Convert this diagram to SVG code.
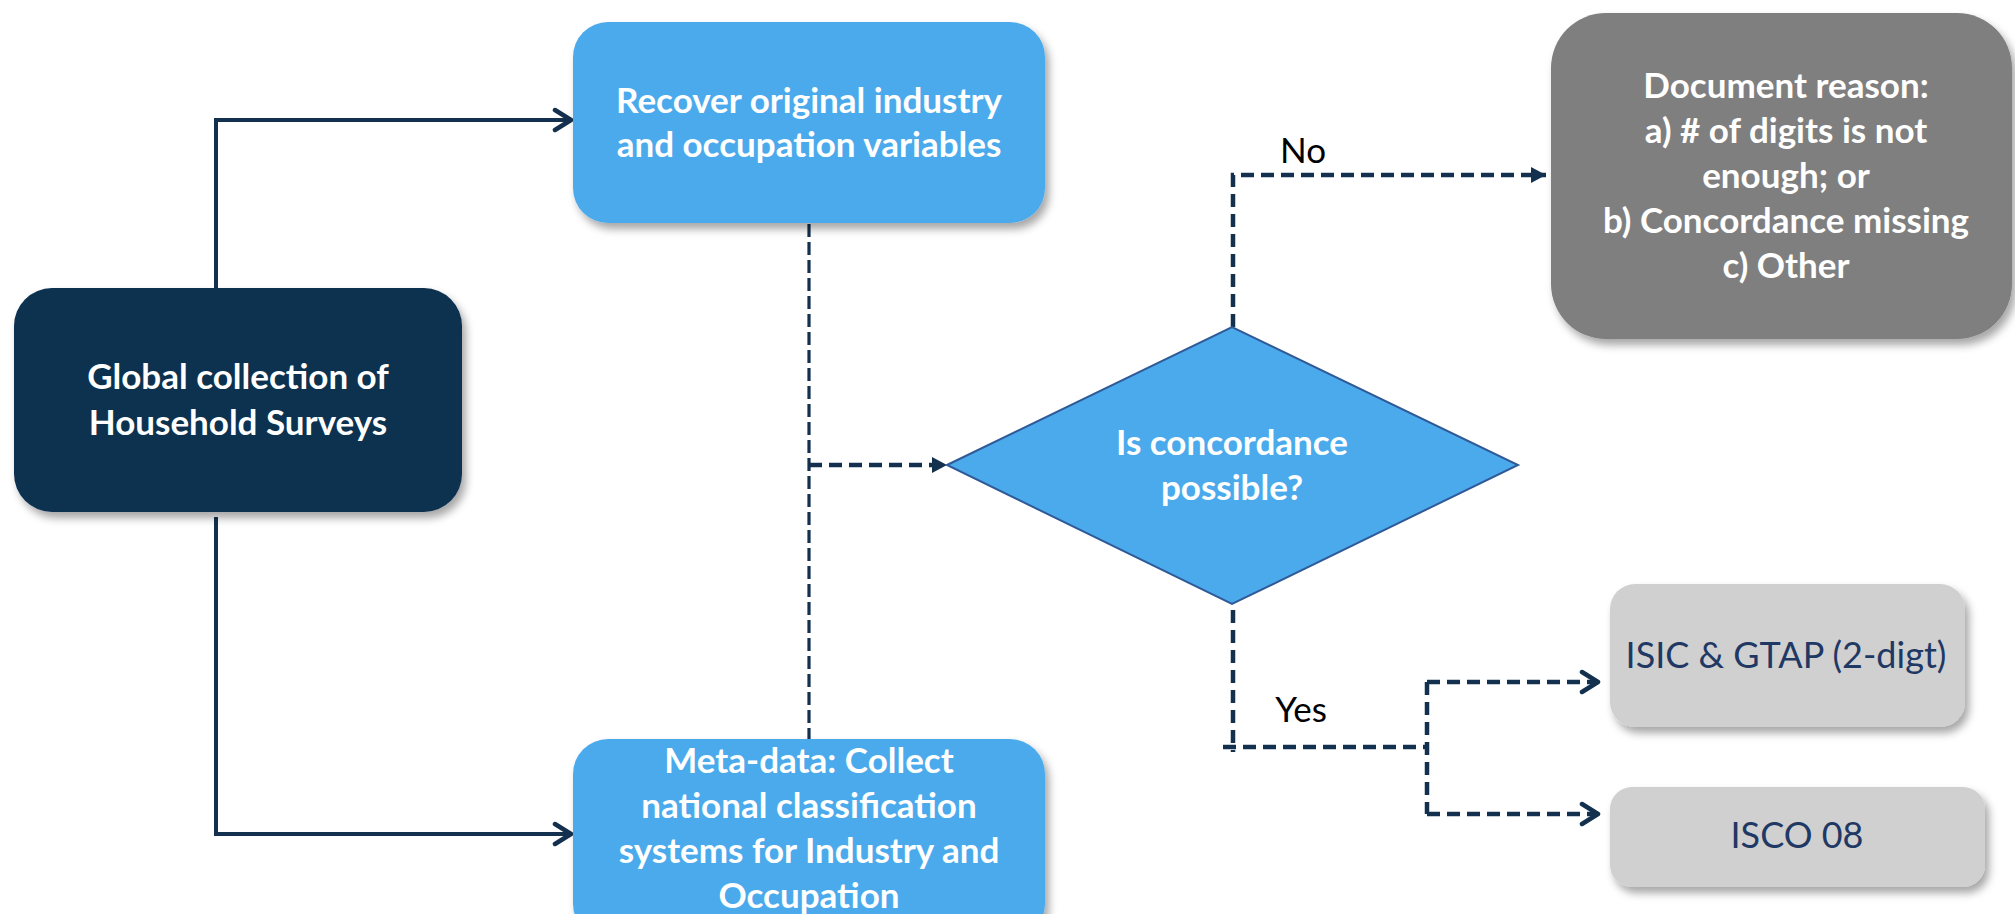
<svg xmlns="http://www.w3.org/2000/svg" width="2015" height="914" viewBox="0 0 2015 914">
<style>
.t{font-family:Lato,"Liberation Sans",sans-serif;text-anchor:middle}
.b{font-weight:bold;fill:#ffffff;font-size:35px}
.lbl{fill:#000000;font-size:35px}
.dk{fill:#1f3864;font-size:36px}
.solid{fill:none;stroke:#13304f;stroke-width:4}
.dash{fill:none;stroke:#13304f;stroke-width:4.5;stroke-dasharray:13 7}
.dashthin{fill:none;stroke:#13304f;stroke-width:3.2;stroke-dasharray:13 5}
</style>
<defs>
<filter id="sh" x="-10%" y="-10%" width="125%" height="130%">
<feDropShadow dx="4" dy="6" stdDeviation="4" flood-color="#000000" flood-opacity="0.35"/>
</filter>
<marker id="tri" markerUnits="userSpaceOnUse" markerWidth="16" markerHeight="16" refX="15" refY="8" orient="auto">
<path d="M0,0 L15,8 L0,16 z" fill="#13304f"/>
</marker>
<marker id="chev" markerUnits="userSpaceOnUse" markerWidth="24" markerHeight="26" refX="20" refY="13" orient="auto">
<path d="M4,3 L20,13 L4,23" fill="none" stroke="#13304f" stroke-width="4.5" stroke-linecap="round" stroke-linejoin="round"/>
</marker>
</defs>
<rect width="2015" height="914" fill="#ffffff"/>
<g id="connectors">
<path class="solid" d="M216,288 V120 H571" marker-end="url(#chev)"/>
<path class="solid" d="M216,517 V834 H571" marker-end="url(#chev)"/>
<path class="dashthin" d="M809,224 V739"/>
<path class="dash" d="M809,465 H947" marker-end="url(#tri)"/>
<path class="dash" d="M1233,327 V175 H1546" marker-end="url(#tri)"/>
<path class="dash" d="M1233,610 V752"/>
<path class="dash" d="M1223,747 H1427"/>
<path class="dash" d="M1427,682 V814"/>
<path class="dash" d="M1427,682 H1598" marker-end="url(#chev)"/>
<path class="dash" d="M1427,814 H1598" marker-end="url(#chev)"/>
</g>
<g id="global">
<rect x="14" y="288" width="448" height="224" rx="38" fill="#10304f" filter="url(#sh)"/>
<text class="t b" x="238" y="389">Global collection of</text>
<text class="t b" x="238" y="435">Household Surveys</text>
</g>
<g id="recover">
<rect x="573" y="22" width="472" height="201" rx="35" fill="#4baaec" filter="url(#sh)"/>
<text class="t b" x="809" y="113">Recover original industry</text>
<text class="t b" x="809" y="157">and occupation variables</text>
</g>
<g id="meta">
<rect x="573" y="739" width="472" height="200" rx="35" fill="#4baaec" filter="url(#sh)"/>
<text class="t b" x="809" y="773">Meta-data: Collect</text>
<text class="t b" x="809" y="818">national classification</text>
<text class="t b" x="809" y="863">systems for Industry and</text>
<text class="t b" x="809" y="908">Occupation</text>
</g>
<g id="decision">
<polygon points="947,465 1232,327 1518,465 1232,604" fill="#4baaec" stroke="#2f5a97" stroke-width="2"/>
<text class="t b" x="1232" y="455">Is concordance</text>
<text class="t b" x="1232" y="500">possible?</text>
</g>
<g id="document">
<rect x="1551" y="13" width="461" height="326" rx="55" fill="#7f7f7f" filter="url(#sh)"/>
<text class="t b" x="1786" y="98">Document reason:</text>
<text class="t b" x="1786" y="143">a) # of digits is not</text>
<text class="t b" x="1786" y="188">enough; or</text>
<text class="t b" x="1786" y="233">b) Concordance missing</text>
<text class="t b" x="1786" y="278">c) Other</text>
</g>
<g id="isic">
<rect x="1610" y="584" width="355" height="143" rx="25" fill="#d0d0d0" filter="url(#sh)"/>
<text class="t dk" x="1786" y="668">ISIC &amp; GTAP (2-digt)</text>
</g>
<g id="isco">
<rect x="1610" y="787" width="375" height="100" rx="22" fill="#d0d0d0" filter="url(#sh)"/>
<text class="t dk" x="1797" y="848">ISCO 08</text>
</g>
<g id="labels">
<text class="t lbl" x="1303" y="163">No</text>
<text class="t lbl" x="1301" y="722">Yes</text>
</g>
</svg>
